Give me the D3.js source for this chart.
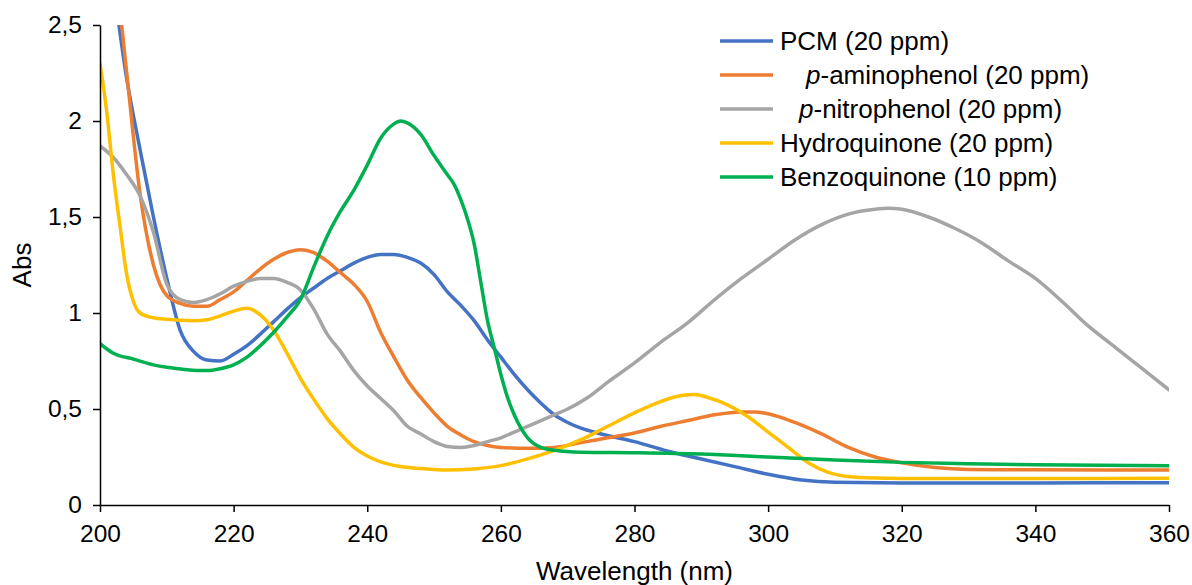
<!DOCTYPE html>
<html>
<head>
<meta charset="utf-8">
<script src="https://cdn.jsdelivr.net/npm/d3@7"></script>
<style>
  body { margin: 0; background: #fff; }
  svg { display: block; font-family: 'Liberation Sans', Arial, sans-serif; }
</style>
</head>
<body>
<svg id="chart" width="1192" height="585"></svg>
<script>
// [wavelength (nm), absorbance]
const pcm = [
  [200, 3.1], [202, 2.7], [204, 2.22], [206, 1.85], [208, 1.5], [210, 1.18],
  [212, 0.91], [214, 0.8], [216, 0.755], [218, 0.75], [220, 0.785], [222, 0.83],
  [224, 0.89], [226, 0.955], [228, 1.02], [230, 1.08], [232, 1.13], [234, 1.18],
  [236, 1.22], [238, 1.26], [240, 1.29], [242, 1.305], [244, 1.305], [246, 1.29],
  [248, 1.26], [250, 1.2], [252, 1.11], [254, 1.04], [256, 0.96], [258, 0.86],
  [260, 0.77], [262, 0.68], [264, 0.6], [266, 0.53], [268, 0.47], [270, 0.43],
  [272, 0.4], [275, 0.37], [280, 0.33], [285, 0.28], [290, 0.24], [295, 0.2],
  [300, 0.16], [305, 0.13], [310, 0.118], [320, 0.115], [340, 0.115], [360, 0.116],
]

const aminophenol = [
  [200, 3.4], [202, 2.9], [204, 2.25], [206, 1.62], [208, 1.25], [210, 1.09],
  [212, 1.05], [214, 1.035], [216, 1.035], [218, 1.07], [220, 1.11], [222, 1.17],
  [224, 1.23], [226, 1.28], [228, 1.315], [230, 1.33], [232, 1.315], [234, 1.27],
  [236, 1.21], [238, 1.15], [240, 1.06], [242, 0.9], [244, 0.77], [246, 0.65],
  [248, 0.56], [250, 0.48], [252, 0.41], [254, 0.365], [256, 0.33], [258, 0.31],
  [260, 0.3], [264, 0.295], [268, 0.3], [272, 0.325], [276, 0.35], [280, 0.375],
  [284, 0.41], [288, 0.44], [292, 0.47], [296, 0.485], [298, 0.485], [300, 0.475],
  [304, 0.43], [308, 0.37], [312, 0.3], [316, 0.25], [320, 0.22], [325, 0.195],
  [330, 0.185], [340, 0.183], [360, 0.182],
]

const nitrophenol = [
  [200, 1.87], [202, 1.81], [204, 1.72], [206, 1.61], [208, 1.42], [210, 1.15],
  [212, 1.07], [214, 1.055], [216, 1.07], [218, 1.1], [220, 1.14], [222, 1.165],
  [224, 1.18], [226, 1.18], [228, 1.16], [230, 1.12], [232, 1.02], [234, 0.89],
  [236, 0.8], [238, 0.7], [240, 0.62], [242, 0.555], [244, 0.49], [246, 0.41],
  [248, 0.37], [250, 0.33], [252, 0.305], [254, 0.3], [256, 0.31], [258, 0.33],
  [260, 0.35], [262, 0.38], [264, 0.41], [266, 0.44], [268, 0.47], [270, 0.5],
  [273, 0.56], [276, 0.64], [280, 0.74], [284, 0.85], [288, 0.95], [292, 1.07],
  [296, 1.18], [300, 1.28], [304, 1.38], [308, 1.46], [312, 1.515], [316, 1.54],
  [318, 1.545], [320, 1.54], [324, 1.5], [328, 1.44], [332, 1.365], [336, 1.27],
  [340, 1.18], [344, 1.06], [348, 0.93], [352, 0.82], [356, 0.71], [360, 0.6],
]

const hydroquinone = [
  [200, 2.3], [201, 2.05], [202, 1.72], [203, 1.45], [204, 1.2], [205, 1.06],
  [206, 1.0], [208, 0.975], [210, 0.967], [212, 0.962], [214, 0.96], [216, 0.965],
  [218, 0.985], [220, 1.01], [222, 1.025], [224, 0.99], [226, 0.91], [228, 0.79],
  [230, 0.66], [232, 0.55], [234, 0.45], [236, 0.37], [238, 0.3], [240, 0.255],
  [242, 0.225], [245, 0.2], [248, 0.19], [252, 0.182], [256, 0.188], [260, 0.205],
  [264, 0.24], [268, 0.285], [272, 0.34], [276, 0.41], [280, 0.48], [284, 0.54],
  [287, 0.57], [289, 0.575], [291, 0.56], [294, 0.52], [297, 0.46], [300, 0.38],
  [303, 0.3], [306, 0.22], [309, 0.17], [312, 0.148], [316, 0.14], [320, 0.138],
  [340, 0.138], [360, 0.139],
]

const benzoquinone = [
  [200, 0.84], [202, 0.79], [205, 0.76], [208, 0.73], [210, 0.717], [213, 0.705],
  [216, 0.7], [218, 0.71], [220, 0.73], [222, 0.77], [224, 0.83], [226, 0.9],
  [228, 0.98], [230, 1.07], [232, 1.24], [234, 1.4], [236, 1.53], [238, 1.64],
  [240, 1.77], [242, 1.91], [244, 1.985], [245, 2.0], [246, 1.99], [248, 1.93],
  [250, 1.82], [252, 1.72], [253, 1.67], [254, 1.59], [255, 1.49], [256, 1.36],
  [257, 1.16], [258, 0.96], [259, 0.82], [260, 0.68], [261, 0.56], [262, 0.47],
  [264, 0.35], [266, 0.3], [268, 0.285], [272, 0.275], [280, 0.272], [290, 0.265],
  [300, 0.25], [310, 0.235], [320, 0.222], [330, 0.215], [340, 0.21], [350, 0.207],
  [360, 0.205],
]

const seriesNames = [
  ['', 'PCM (20 ppm)'],
  ['p', '-aminophenol (20 ppm)'],
  ['p', '-nitrophenol (20 ppm)'],
  ['', 'Hydroquinone (20 ppm)'],
  ['', 'Benzoquinone (10 ppm)'],
]
const seriesData = [pcm, aminophenol, nitrophenol, hydroquinone, benzoquinone]
const seriesColors = ['#4472C4', '#ED7D31', '#A5A5A5', '#FFC000', '#00B050']

const xTicks = [200, 220, 240, 260, 280, 300, 320, 340, 360]
const yTicks = [0, 0.5, 1, 1.5, 2, 2.5]

const margin = { top: 25, right: 23, bottom: 80, left: 100 }
const width = 1192 - margin.left - margin.right
const height = 585 - margin.top - margin.bottom

const svg = d3.select('#chart')
const g = svg
  .append('g')
  .attr('transform', `translate(${margin.left}, ${margin.top})`)

const xScale = d3.scaleLinear().domain([200, 360]).range([0, width])
const yScale = d3.scaleLinear().domain([0, 2.5]).range([height, 0])

const fmt = d => String(d).replace('.', ',')

g.append('defs')
  .append('clipPath')
  .attr('id', 'plot-clip')
  .append('rect')
  .attr('x', 0)
  .attr('y', 0)
  .attr('width', width)
  .attr('height', height)

const line = d3
  .line()
  .x(d => xScale(d[0]))
  .y(d => yScale(d[1]))
  .curve(d3.curveMonotoneX)

g.append('g')
  .attr('clip-path', 'url(#plot-clip)')
  .selectAll('path')
  .data(seriesData)
  .join('path')
  .attr('d', line)
  .attr('fill', 'none')
  .attr('stroke', (d, i) => seriesColors[i])
  .attr('stroke-width', 3.5)
  .attr('stroke-linejoin', 'round')
  .attr('stroke-linecap', 'round')

const xAxis = g
  .append('g')
  .attr('transform', `translate(0, ${height})`)
  .call(
    d3.axisBottom(xScale).tickValues(xTicks).tickSize(7).tickPadding(13).tickSizeOuter(0)
  )

const yAxis = g
  .append('g')
  .call(
    d3.axisLeft(yScale).tickValues(yTicks).tickFormat(fmt).tickSize(7).tickPadding(11).tickSizeOuter(0)
  )

;[xAxis, yAxis].forEach(axis => {
  axis.select('.domain').attr('stroke', '#000').attr('stroke-width', 1.5)
  axis.selectAll('.tick line').attr('stroke', '#000').attr('stroke-width', 1.5)
  axis
    .selectAll('.tick text')
    .attr('fill', '#000')
    .style('font-size', '24.5px')
    .style('font-family', "'Liberation Sans', Arial, sans-serif")
})

svg
  .append('text')
  .attr('x', margin.left + width / 2)
  .attr('y', 580)
  .attr('text-anchor', 'middle')
  .style('font-size', '26px')
  .text('Wavelength (nm)')

svg
  .append('text')
  .attr('transform', `translate(31, ${margin.top + height / 2}) rotate(-90)`)
  .attr('text-anchor', 'middle')
  .style('font-size', '26px')
  .text('Abs')

// legend
const legend = svg.append('g').attr('transform', 'translate(720, 41)')
const textOffsets = [60, 86, 79, 60, 60]

const items = legend
  .selectAll('g')
  .data(seriesNames)
  .join('g')
  .attr('transform', (d, i) => `translate(0, ${i * 34})`)

items
  .append('line')
  .attr('x1', 0)
  .attr('x2', 53)
  .attr('stroke', (d, i) => seriesColors[i])
  .attr('stroke-width', 3.5)

const labels = items
  .append('text')
  .attr('x', (d, i) => textOffsets[i])
  .attr('dy', '0.35em')
  .style('font-size', '26px')

labels
  .append('tspan')
  .style('font-style', 'italic')
  .text(d => d[0])

labels.append('tspan').text(d => d[1])
</script>
</body>
</html>
